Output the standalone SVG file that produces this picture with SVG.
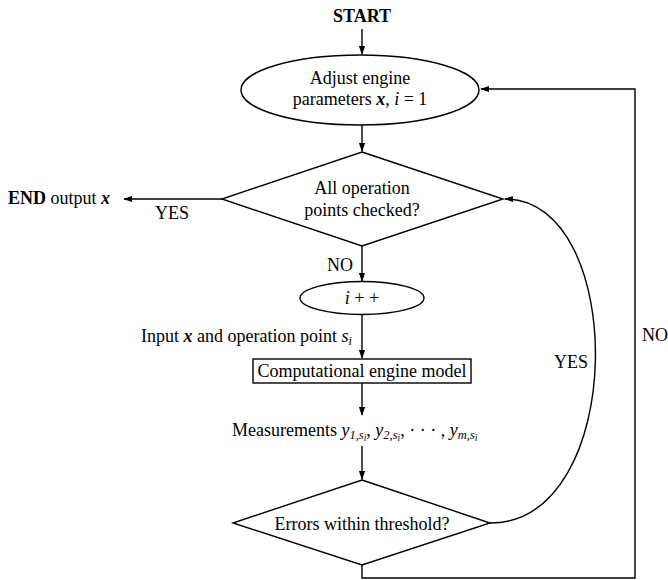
<svg xmlns="http://www.w3.org/2000/svg" width="668" height="580" viewBox="0 0 668 580">
<style>
text{font-family:"Liberation Serif","Times New Roman",serif;font-size:18px;fill:#000}
.c{text-anchor:middle}
.e{text-anchor:end}
.b{font-weight:bold}
.i{font-style:italic}
.bi{font-style:italic;font-weight:bold}
.shape{fill:#fff;stroke:#000;stroke-width:1.4}
.ln{fill:none;stroke:#000;stroke-width:1.4}
.sub{font-size:12.5px;font-style:italic}
.sub2{font-size:9.5px;font-style:italic}
</style>
<defs>
<marker id="ah" viewBox="0 0 10 10" refX="9" refY="5" markerWidth="9" markerHeight="9" markerUnits="userSpaceOnUse" orient="auto">
<path d="M0,1.5 L10,5 L0,8.5 Z" fill="#000"/>
</marker>
</defs>
<g id="start"><text class="c b" x="362" y="22">START</text></g>
<g id="adjust">
<ellipse class="shape" cx="360" cy="90" rx="119" ry="35"/>
<text class="c" x="360" y="84">Adjust engine</text>
<text class="c" x="360" y="105">parameters <tspan class="bi">x</tspan>, <tspan class="i">i</tspan> = 1</text>
</g>
<g id="checked">
<polygon class="shape" points="362,152 503,199 362,246 222,199"/>
<text class="c" x="362" y="194">All operation</text>
<text class="c" x="362" y="216">points checked?</text>
</g>
<g id="end"><text x="8" y="204"><tspan class="b">END</tspan> output <tspan class="bi">x</tspan></text></g>
<g id="incr">
<ellipse class="shape" cx="362" cy="298" rx="62" ry="16.5"/>
<text class="c" x="362" y="304"><tspan class="i">i</tspan> + +</text>
</g>
<g id="model">
<rect class="shape" x="253" y="359" width="218" height="24"/>
<text class="c" x="362" y="377">Computational engine model</text>
</g>
<g id="errors">
<polygon class="shape" points="362,480 490,523 362,565 233,523"/>
<text class="c" x="362" y="530">Errors within threshold?</text>
</g>
<g id="connectors">
<line class="ln" x1="362" y1="29" x2="362" y2="54" marker-end="url(#ah)"/>
<line class="ln" x1="362" y1="125" x2="362" y2="151" marker-end="url(#ah)"/>
<line class="ln" x1="222" y1="199" x2="124" y2="199" marker-end="url(#ah)"/>
<line class="ln" x1="362" y1="246" x2="362" y2="281" marker-end="url(#ah)"/>
<line class="ln" x1="362" y1="315" x2="362" y2="358" marker-end="url(#ah)"/>
<line class="ln" x1="362" y1="383" x2="362" y2="415" marker-end="url(#ah)"/>
<line class="ln" x1="362" y1="446" x2="362" y2="479" marker-end="url(#ah)"/>
<path class="ln" d="M490,523 C628,523 628,199 505,199" marker-end="url(#ah)"/>
<path class="ln" d="M362,565 L362,578 L635,578 L635,89 L481,89" marker-end="url(#ah)"/>
<text x="155" y="219">YES</text>
<text x="327" y="271">NO</text>
<text x="554" y="368">YES</text>
<text x="642" y="341">NO</text>
<text class="e" x="352" y="342">Input <tspan class="bi">x</tspan> and operation point <tspan class="i">s</tspan><tspan class="sub" dy="3">i</tspan></text>
<text x="232" y="436">Measurements <tspan class="i">y</tspan><tspan class="sub" dy="3">1,s</tspan><tspan class="sub2" dy="2">i</tspan><tspan dy="-5">, </tspan><tspan class="i">y</tspan><tspan class="sub" dy="3">2,s</tspan><tspan class="sub2" dy="2">i</tspan><tspan dy="-5">,  · · · , </tspan><tspan class="i">y</tspan><tspan class="sub" dy="3">m,s</tspan><tspan class="sub2" dy="2">i</tspan></text>
</g>
</svg>
